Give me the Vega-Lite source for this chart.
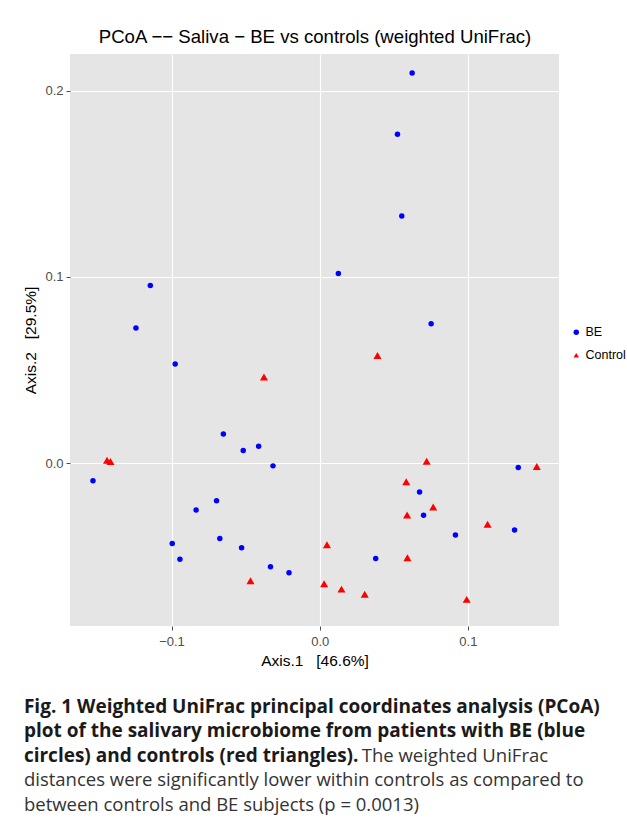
{
  "$schema": "https://vega.github.io/schema/vega-lite/v6.json",
  "autosize": "none",
  "width": 489,
  "height": 572,
  "padding": {"left": 70, "top": 54, "right": 68, "bottom": 205},
  "background": "white",
  "title": {
    "text": ["Fig. 1 Weighted UniFrac principal coordinates analysis (PCoA)", "plot of the salivary microbiome from patients with BE (blue", "circles) and controls (red triangles)."],
    "subtitle": ["\u200b\u2003\u2003\u2003\u2003\u2003\u2003\u2003\u2003\u2003\u2003\u2003\u2003\u2003\u2003\u2003\u2003\u2003\u2003\u00a0The weighted UniFrac", "distances were significantly lower within controls as compared to", "between controls and BE subjects (p\u00a0=\u00a00.0013)"],
    "orient": "bottom",
    "anchor": "start",
    "frame": "bounds",
    "offset": 29,
    "font": "Open Sans",
    "fontSize": 19,
    "fontWeight": "bold",
    "color": "#1a1a1a",
    "lineHeight": 24.5,
    "subtitleFont": "Open Sans",
    "subtitleFontSize": 18.5,
    "subtitleFontWeight": "normal",
    "subtitleColor": "#333333",
    "subtitleLineHeight": 24.5,
    "subtitlePadding": -19
  },
  "datasets": {
    "pts": [
      {"group": "BE", "x": -0.1530, "y": -0.0095},
      {"group": "BE", "x": -0.0650, "y": 0.0156},
      {"group": "BE", "x": -0.0516, "y": 0.0067},
      {"group": "BE", "x": -0.0412, "y": 0.0090},
      {"group": "BE", "x": -0.0315, "y": -0.0015},
      {"group": "BE", "x": -0.0696, "y": -0.0202},
      {"group": "BE", "x": -0.0834, "y": -0.0252},
      {"group": "BE", "x": -0.0995, "y": -0.0432},
      {"group": "BE", "x": -0.0943, "y": -0.0516},
      {"group": "BE", "x": -0.0674, "y": -0.0405},
      {"group": "BE", "x": -0.0527, "y": -0.0455},
      {"group": "BE", "x": -0.0332, "y": -0.0557},
      {"group": "BE", "x": -0.0207, "y": -0.0589},
      {"group": "BE", "x": 0.0378, "y": -0.0513},
      {"group": "BE", "x": 0.0674, "y": -0.0155},
      {"group": "BE", "x": 0.0701, "y": -0.0280},
      {"group": "BE", "x": 0.0916, "y": -0.0386},
      {"group": "BE", "x": 0.1315, "y": -0.0359},
      {"group": "BE", "x": 0.1340, "y": -0.0024},
      {"group": "BE", "x": 0.0624, "y": 0.2095},
      {"group": "BE", "x": 0.0525, "y": 0.1766},
      {"group": "BE", "x": 0.0554, "y": 0.1327},
      {"group": "BE", "x": 0.0126, "y": 0.1018},
      {"group": "BE", "x": 0.0752, "y": 0.0748},
      {"group": "BE", "x": -0.1143, "y": 0.0954},
      {"group": "BE", "x": -0.1240, "y": 0.0725},
      {"group": "BE", "x": -0.0975, "y": 0.0532},
      {"group": "Control", "x": -0.1435, "y": 0.0015},
      {"group": "Control", "x": -0.1412, "y": 0.0009},
      {"group": "Control", "x": -0.0376, "y": 0.0462},
      {"group": "Control", "x": 0.0390, "y": 0.0578},
      {"group": "Control", "x": 0.0722, "y": 0.0010},
      {"group": "Control", "x": 0.1465, "y": -0.0019},
      {"group": "Control", "x": 0.0584, "y": -0.0100},
      {"group": "Control", "x": 0.0766, "y": -0.0236},
      {"group": "Control", "x": 0.0590, "y": -0.0279},
      {"group": "Control", "x": 0.1133, "y": -0.0329},
      {"group": "Control", "x": 0.0049, "y": -0.0439},
      {"group": "Control", "x": 0.0592, "y": -0.0509},
      {"group": "Control", "x": -0.0467, "y": -0.0632},
      {"group": "Control", "x": 0.0030, "y": -0.0648},
      {"group": "Control", "x": 0.0147, "y": -0.0677},
      {"group": "Control", "x": 0.0304, "y": -0.0705},
      {"group": "Control", "x": 0.0992, "y": -0.0732}
    ]
  },
  "data": {"name": "pts"},
  "layer": [
    {
      "transform": [{"filter": "datum.group === 'BE'"}],
      "mark": {"type": "point", "filled": true, "size": 30, "opacity": 1, "strokeWidth": 0},
      "encoding": {
        "x": {
          "field": "x", "type": "quantitative",
          "scale": {"domain": [-0.1685, 0.1615], "nice": false, "zero": false},
          "axis": {"orient": "bottom", "values": [-0.1, 0, 0.1], "format": ".1f", "labelPadding": 5, "title": "Axis.1\u00a0\u00a0\u00a0[46.6%]", "titlePadding": 5}
        },
        "y": {
          "field": "y", "type": "quantitative",
          "scale": {"domain": [-0.0875, 0.2197], "nice": false, "zero": false},
          "axis": {"orient": "left", "values": [0, 0.1, 0.2], "format": ".1f", "labelPadding": 3, "title": "Axis.2\u00a0\u00a0\u00a0[29.5%]", "titlePadding": 6}
        },
        "color": {"field": "group", "type": "nominal", "scale": {"domain": ["BE", "Control"], "range": ["#0000ff", "#ff0000"]}, "legend": {"title": null, "orient": "none", "legendX": 500, "legendY": 272}},
        "shape": {"field": "group", "type": "nominal", "scale": {"domain": ["BE", "Control"], "range": ["circle", "triangle-up"]}, "legend": {"title": null, "orient": "none", "legendX": 500, "legendY": 272}}
      }
    },
    {
      "transform": [{"filter": "datum.group === 'Control'"}],
      "mark": {"type": "point", "filled": true, "size": 65, "opacity": 1, "strokeWidth": 0},
      "encoding": {
        "x": {
          "field": "x", "type": "quantitative",
          "axis": {"orient": "top", "values": [-0.15, -0.05, 0.05, 0.15], "labels": false, "ticks": false, "gridColor": "#f2f2f2", "gridWidth": 0.6, "title": "PCoA \u2212\u2212 Saliva \u2212 BE vs controls (weighted UniFrac)", "titleFontSize": 18.6, "titlePadding": 8}
        },
        "y": {
          "field": "y", "type": "quantitative",
          "axis": {"orient": "right", "values": [-0.05, 0.05, 0.15], "labels": false, "ticks": false, "gridColor": "#f2f2f2", "gridWidth": 0.6, "title": null}
        },
        "color": {"field": "group", "type": "nominal"},
        "shape": {"field": "group", "type": "nominal"}
      }
    }
  ],
  "config": {
    "view": {"fill": "#e5e5e5", "stroke": null},
    "axis": {
      "domain": false,
      "grid": true,
      "gridColor": "#ffffff",
      "gridWidth": 1.2,
      "labelFont": "Liberation Sans",
      "labelFontSize": 13,
      "labelColor": "#4d4d4d",
      "tickColor": "#4d4d4d",
      "tickSize": 4,
      "titleFont": "Liberation Sans",
      "titleFontSize": 15.5,
      "titleFontWeight": "normal",
      "titleColor": "#000000"
    },
    "legend": {
      "labelFont": "Liberation Sans",
      "labelFontSize": 12.5,
      "labelColor": "#000000",
      "symbolSize": 30,
      "rowPadding": 10,
      "labelOffset": 3
    }
  }
}
